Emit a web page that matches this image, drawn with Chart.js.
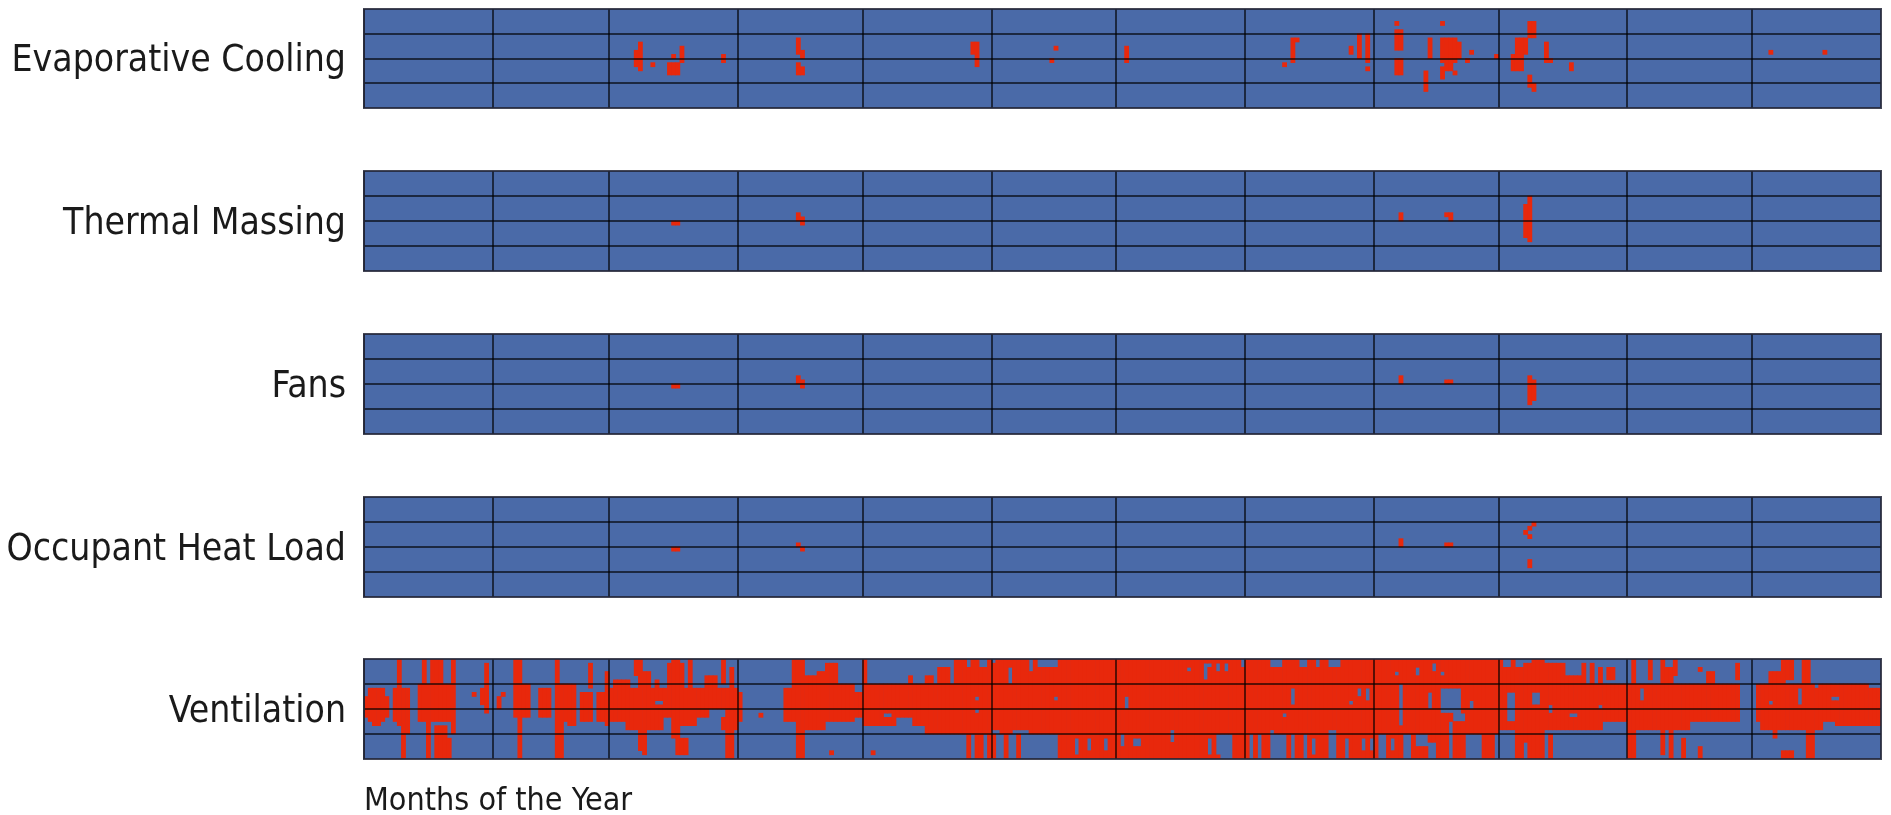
<!DOCTYPE html>
<html>
<head>
<meta charset="utf-8">
<title>Strategy hours by month</title>
<script src="https://cdn.jsdelivr.net/npm/chart.js@4.4.1/dist/chart.umd.min.js"></script>
<style>
  html, body { margin: 0; padding: 0; background: #fff; overflow: hidden; }
  .strip { position: absolute; left: 0; width: 1891px; }
</style>
</head>
<body>
<div class="strip" style="top:-10px;height:137px"><canvas id="strip0"></canvas></div>
<div class="strip" style="top:152px;height:138px"><canvas id="strip1"></canvas></div>
<div class="strip" style="top:315px;height:138px"><canvas id="strip2"></canvas></div>
<div class="strip" style="top:478px;height:138px"><canvas id="strip3"></canvas></div>
<div class="strip" style="top:640px;height:178px"><canvas id="strip4"></canvas></div>
<script>
const monthNames = ['Jan', 'Feb', 'Mar', 'Apr', 'May', 'Jun', 'Jul', 'Aug', 'Sep', 'Oct', 'Nov', 'Dec'];
const monthDays = [31, 28, 31, 30, 31, 30, 31, 31, 30, 31, 30, 31];
const hoursPerDay = 24;
const hourLines = [6, 12, 18];
const stripNames = ['Evaporative Cooling', 'Thermal Massing', 'Fans', 'Occupant Heat Load', 'Ventilation'];
const xTitle = 'Months of the Year';

// red periods: [first day, last day, first hour, end hour]  (day 0 = 1 Jan)
const evaporativeCooling = [
  [65, 65, 10, 14], [66, 66, 8, 15], [69, 69, 13, 14], [73, 75, 13, 16], [74, 74, 11, 12], [76, 76, 9, 13],
  [86, 86, 11, 13], [104, 104, 7, 11], [105, 105, 10, 12], [104, 104, 13, 16], [105, 105, 14, 16],
  [146, 147, 8, 11], [147, 147, 11, 14], [166, 166, 9, 10], [165, 165, 12, 13], [183, 183, 9, 13],
  [221, 221, 13, 14], [223, 223, 7, 13], [224, 224, 7, 8], [237, 237, 9, 11], [239, 239, 6, 12],
  [241, 241, 6, 13], [241, 241, 14, 15], [248, 248, 3, 4], [248, 249, 5, 10], [248, 249, 12, 16],
  [255, 255, 15, 20], [256, 256, 7, 12], [259, 259, 3, 4], [259, 262, 7, 13], [263, 263, 8, 12],
  [260, 261, 13, 15], [259, 259, 14, 17], [262, 262, 15, 16], [266, 266, 10, 11], [265, 265, 12, 13],
  [272, 272, 11, 12], [280, 281, 3, 7], [277, 279, 7, 11], [276, 278, 11, 15], [280, 280, 16, 19],
  [281, 281, 18, 20], [284, 284, 8, 13], [285, 285, 12, 13], [290, 290, 13, 15], [338, 338, 10, 11],
  [351, 351, 10, 11]
];
const thermalMassing = [
  [74, 75, 12, 13], [104, 104, 10, 12], [105, 105, 11, 13], [249, 249, 10, 12], [260, 261, 10, 11],
  [261, 261, 11, 12], [280, 280, 6, 8], [279, 280, 8, 16], [280, 280, 16, 17]
];
const fans = [
  [74, 75, 12, 13], [104, 104, 10, 12], [105, 105, 11, 13], [249, 249, 10, 12], [260, 261, 11, 12],
  [280, 280, 10, 17], [281, 281, 11, 16]
];
const occupantHeatLoad = [
  [74, 75, 12, 13], [104, 104, 11, 12], [105, 105, 12, 13], [249, 249, 10, 12], [260, 261, 11, 12],
  [281, 281, 6, 7], [280, 280, 7, 8], [279, 279, 8, 9], [280, 280, 9, 10], [280, 280, 15, 17]
];
const ventilationOn = [
  // Jan
  [0, 0, 9, 14], [1, 4, 7, 15], [2, 3, 15, 16], [5, 5, 9, 14], [7, 10, 7, 15], [8, 8, 0, 16], [9, 9, 12, 24],
  [9, 10, 15, 18], [14, 14, 0, 6], [16, 18, 0, 7], [13, 21, 6, 15], [21, 21, 0, 18], [15, 15, 15, 24],
  [17, 19, 16, 24], [20, 20, 19, 24], [26, 26, 8, 9], [28, 28, 7, 11], [29, 29, 1, 13],
  // Feb
  [32, 32, 9, 12], [33, 33, 8, 9], [36, 36, 0, 7], [37, 37, 0, 24], [36, 39, 6, 14], [42, 44, 7, 14],
  [46, 46, 0, 24], [47, 50, 6, 15], [49, 50, 15, 16], [47, 47, 15, 24], [52, 54, 8, 15], [54, 54, 1, 7],
  [56, 57, 8, 15], [58, 58, 3, 16],
  // Mar
  [59, 89, 7, 14], [60, 63, 5, 7], [65, 66, 0, 4], [66, 68, 3, 7], [70, 70, 5, 7], [73, 76, 1, 7],
  [74, 75, 0, 1], [78, 78, 0, 7], [82, 84, 4, 7], [86, 86, 0, 6], [88, 88, 2, 7], [59, 62, 14, 15],
  [63, 71, 14, 17], [74, 79, 14, 16], [86, 89, 14, 17], [66, 67, 17, 22], [67, 67, 22, 23],
  [74, 75, 16, 19], [75, 77, 19, 23], [87, 88, 16, 24],
  // Apr
  [90, 90, 8, 15], [95, 95, 13, 14], [101, 102, 7, 15], [103, 105, 0, 6], [106, 108, 4, 6],
  [109, 110, 3, 6], [111, 113, 1, 6], [103, 117, 6, 15], [104, 105, 15, 24], [106, 110, 15, 17],
  [112, 112, 22, 23], [118, 119, 8, 14],
  // May
  [120, 120, 0, 6], [120, 150, 6, 16], [131, 131, 4, 6], [135, 136, 4, 6], [138, 140, 2, 6],
  [142, 150, 0, 6], [135, 150, 16, 18], [122, 122, 22, 23], [145, 145, 18, 24], [147, 148, 18, 24],
  [150, 150, 18, 24],
  // Jun - Sep
  [151, 272, 0, 24],
  // Oct
  [273, 283, 0, 6], [284, 288, 1, 6], [289, 292, 4, 6], [293, 293, 1, 6], [295, 295, 1, 6],
  [297, 297, 2, 6], [299, 300, 2, 5], [273, 303, 6, 15], [273, 297, 15, 17], [277, 283, 17, 24],
  [285, 285, 18, 24],
  // Nov
  [305, 305, 0, 6], [309, 309, 0, 5], [312, 312, 0, 6], [313, 314, 2, 6], [315, 315, 0, 4],
  [321, 321, 2, 3], [323, 324, 3, 6], [330, 330, 1, 5], [304, 330, 6, 15], [304, 318, 15, 17],
  [304, 305, 17, 24], [312, 312, 17, 23], [314, 314, 17, 24], [317, 317, 19, 24], [321, 321, 21, 24],
  // Dec
  [335, 364, 6, 15], [338, 340, 3, 6], [341, 341, 0, 6], [342, 343, 0, 5], [346, 347, 0, 6],
  [336, 350, 15, 17], [354, 364, 15, 16], [339, 339, 17, 19], [341, 343, 22, 24], [347, 348, 17, 24]
];
// blue gaps inside the red blocks of ventilation
const ventilationOff = [
  [70, 71, 10, 11], [83, 86, 12, 14],
  [125, 126, 13, 14], [128, 131, 14, 16], [145, 145, 0, 2], [148, 149, 0, 2], [147, 147, 9, 10], [147, 147, 12, 13],
  [151, 151, 0, 1], [155, 155, 2, 6], [160, 160, 0, 3], [162, 166, 0, 2], [166, 166, 9, 10], [151, 152, 17, 18],
  [156, 159, 17, 18], [152, 153, 18, 24], [155, 156, 18, 24], [158, 166, 18, 24], [171, 171, 19, 23],
  [174, 174, 19, 22], [178, 178, 19, 22],
  [198, 198, 2, 3], [202, 202, 1, 5], [203, 203, 1, 2], [205, 205, 1, 3], [207, 207, 1, 3], [211, 211, 0, 2],
  [183, 183, 9, 12], [182, 182, 18, 21], [185, 186, 19, 21], [194, 194, 17, 20], [203, 203, 19, 23],
  [205, 205, 18, 23], [206, 208, 18, 24], [213, 213, 18, 24],
  [218, 220, 0, 2], [225, 226, 0, 2], [229, 229, 0, 2], [232, 234, 0, 2], [223, 223, 7, 11], [239, 239, 7, 9],
  [237, 237, 10, 11], [241, 241, 7, 10], [221, 221, 13, 14], [215, 215, 18, 24], [218, 221, 18, 24],
  [223, 223, 18, 24], [226, 226, 18, 24], [228, 228, 19, 23], [232, 233, 17, 24], [236, 236, 19, 24],
  [240, 240, 19, 22], [242, 242, 19, 22], [218, 218, 17, 18],
  [248, 248, 3, 4], [253, 253, 2, 4], [257, 257, 1, 3], [259, 259, 3, 4], [249, 249, 6, 16], [256, 256, 8, 12],
  [259, 263, 7, 13], [262, 264, 13, 15], [266, 266, 10, 12], [244, 245, 18, 24], [247, 247, 19, 22],
  [250, 251, 18, 24], [253, 255, 18, 21], [256, 257, 20, 24], [261, 261, 15, 24], [265, 268, 18, 24],
  [272, 272, 18, 24],
  [274, 275, 0, 2], [277, 278, 0, 2], [279, 280, 0, 1], [275, 276, 8, 15], [281, 282, 8, 11], [285, 285, 11, 13],
  [290, 291, 13, 14], [297, 297, 11, 12], [279, 279, 20, 24],
  [307, 307, 7, 10],
  [338, 338, 10, 11], [345, 345, 7, 11], [349, 349, 6, 7], [353, 354, 9, 10], [362, 364, 6, 7]
];

const FONT = "'DejaVu Sans Condensed', 'DejaVu Sans', sans-serif";
const BLUE = '#4a6aa8';
const RED = '#e8280c';
const LINE = 'rgba(0, 0, 0, 0.62)';
Chart.defaults.font.family = FONT;

// day labels + month boundaries
const dayLabels = [];
const monthStarts = [0];
monthNames.forEach((m, i) => {
  for (let d = 1; d <= monthDays[i]; d++) dayLabels.push(m + ' ' + d);
  monthStarts.push(monthStarts[i] + monthDays[i]);
});

// turn the periods into one floating bar per run of red hours in a day
function toBars(onRects, offRects) {
  const grid = dayLabels.map(() => new Array(hoursPerDay).fill(false));
  const paint = (rects, v) => rects.forEach(([d0, d1, h0, h1]) => {
    for (let d = d0; d <= d1; d++) for (let h = h0; h < h1; h++) grid[d][h] = v;
  });
  paint(onRects, true);
  paint(offRects || [], false);
  const bars = [];
  grid.forEach((hours, d) => {
    let start = -1;
    for (let h = 0; h <= hoursPerDay; h++) {
      const on = h < hoursPerDay && hours[h];
      if (on && start < 0) start = h;
      if (!on && start >= 0) { bars.push({x: dayLabels[d], y: [start, h]}); start = -1; }
    }
  });
  return bars;
}

const stripFrame = {
  id: 'stripFrame',
  beforeDatasetsDraw(chart) {
    const {ctx, chartArea: a} = chart;
    ctx.save();
    ctx.fillStyle = BLUE;
    ctx.fillRect(a.left, a.top, a.width, a.height);
    ctx.restore();
  },
  afterDraw(chart) {
    const {ctx, chartArea: a} = chart;
    ctx.save();
    ctx.strokeStyle = 'rgba(35, 38, 55, 0.85)';
    ctx.lineWidth = 2;
    ctx.strokeRect(a.left, a.top, a.width, a.height);
    ctx.restore();
  }
};

function makeStrip(i, onRects, offRects) {
  const last = i === stripNames.length - 1;
  return new Chart(document.getElementById('strip' + i), {
    type: 'bar',
    data: {
      labels: dayLabels,
      datasets: [{
        label: stripNames[i],
        data: toBars(onRects, offRects),
        backgroundColor: RED,
        borderWidth: 0,
        barPercentage: 1,
        categoryPercentage: 1,
        grouped: false
      }]
    },
    options: {
      responsive: true,
      maintainAspectRatio: false,
      animation: false,
      events: [],
      layout: { padding: { left: 0, right: 10, top: 0, bottom: 0 } },
      plugins: { legend: { display: false }, tooltip: { enabled: false } },
      scales: {
        x: {
          type: 'category',
          offset: true,
          border: { display: false },
          grid: {
            offset: true,
            z: 1,
            drawTicks: false,
            lineWidth: 2,
            color: (ctx) => monthStarts.includes(ctx.index) ? LINE : 'rgba(0,0,0,0)'
          },
          ticks: { display: false },
          title: {
            display: last,
            text: xTitle,
            align: 'start',
            color: '#1a1a1a',
            font: { family: FONT, size: 32, lineHeight: 1 },
            padding: { top: 27, bottom: 0 }
          }
        },
        y: {
          type: 'linear',
          min: 0,
          max: hoursPerDay,
          reverse: true,
          border: { display: false },
          afterBuildTicks: (scale) => { scale.ticks = hourLines.map(v => ({ value: v })); },
          afterFit: (scale) => { scale.width = 364; },
          grid: { z: 1, drawTicks: false, lineWidth: 2, color: LINE },
          ticks: {
            autoSkip: false,
            padding: 18,
            labelOffset: 3,
            color: '#1a1a1a',
            font: (ctx) => ctx.index === 1 ? { family: FONT, size: 37 } : { family: FONT, size: 1, lineHeight: 2 },
            callback: (v) => v === hoursPerDay / 2 ? stripNames[i] : ''
          }
        }
      }
    },
    plugins: [stripFrame]
  });
}

makeStrip(0, evaporativeCooling);
makeStrip(1, thermalMassing);
makeStrip(2, fans);
makeStrip(3, occupantHeatLoad);
makeStrip(4, ventilationOn, ventilationOff);
</script>
</body>
</html>
